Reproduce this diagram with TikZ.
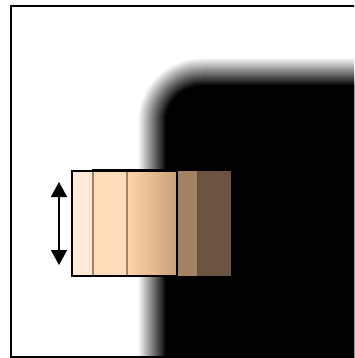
\documentclass[tikz,border=0pt]{standalone}
\usetikzlibrary{arrows.meta}

\begin{document}
\begin{tikzpicture}[x=1pt, y=-1pt, strip/.style={draw=none}, divider/.style={draw=brown!60!black!70, line width=1.2pt}, outline/.style={draw=black, line width=1.6pt}, arr/.style={{Triangle[length=15pt,width=16pt]}-{Triangle[length=15pt,width=16pt]}, line width=1.5pt}, frame/.style={draw=black, line width=1.8pt}]
\useasboundingbox (0,0) rectangle (354,358);
\clip (0,0) rectangle (354,358);
\definecolor{skinA}{HTML}{FFEAD8}\definecolor{skinB}{HTML}{FFDDBB}\definecolor{skinC}{HTML}{FFD6AA}\definecolor{skinD}{HTML}{C79E78}\definecolor{skinE}{HTML}{A38263}\definecolor{skinF}{HTML}{6A5440}

% frame and blurred dark shape
\draw[frame] (11,6) rectangle (380,357);
\foreach \i in {1,...,28} {\pgfmathsetmacro{\d}{14.5-\i} \pgfmathsetmacro{\op}{1/(29-\i)} \fill[black, opacity=\op, rounded corners={50+\d}] (152-\d,72-\d) rectangle (420,420);}

% colour strips
\fill[skinA] (72,171) rectangle (93,276); \fill[skinB] (93,171) rectangle (127,276);
\shade[left color=skinC, right color=skinD] (127,171) rectangle (177,276);
\fill[skinE] (177,171) rectangle (197,276); \fill[skinF] (197,171) rectangle (231,276);
\draw[divider] (93,171)--(93,276); \draw[divider] (127,171)--(127,276);
\draw[black, line width=1pt] (92,169.5)--(231,169.5);
\draw[outline] (72,171) rectangle (177,276);

% size arrow
\coordinate (top) at (59,182); \coordinate (bot) at (59,265);
\draw[arr] (top)--(bot);
\end{tikzpicture}
\end{document}
